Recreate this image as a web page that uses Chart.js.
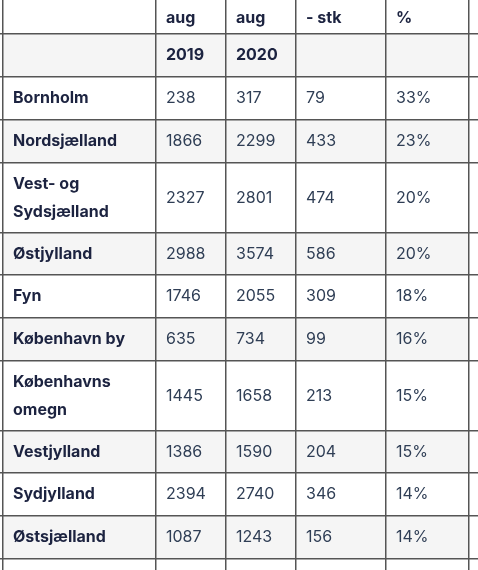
<!DOCTYPE html>
<html><head><meta charset="utf-8">
<script src="https://cdn.jsdelivr.net/npm/chart.js@4"></script>
<style>html,body{margin:0;padding:0;background:#fff;overflow:hidden}</style>
</head><body>
<canvas id="c" width="478" height="570"></canvas>
<script>
const headerTop = ["", "aug", "aug", "- stk", "%"];
const headerSub = ["", "2019", "2020", "", ""];
const regions = [["Bornholm"],["Nordsjælland"],["Vest- og","Sydsjælland"],["Østjylland"],["Fyn"],["København by"],["Københavns","omegn"],["Vestjylland"],["Sydjylland"],["Østsjælland"]];
const aug2019 = [238,1866,2327,2988,1746,635,1445,1386,2394,1087];
const aug2020 = [317,2299,2801,3574,2055,734,1658,1590,2740,1243];
const diffStk = [79,433,474,586,309,99,213,204,346,156];
const pct = ["33%","23%","20%","20%","18%","16%","15%","15%","14%","14%"];
const colBounds = [3,156,226,296,386,469];
const rowBounds = [-10,34,77,120,163,233,275,318,361,431,473,516,559,610];

const rows = [headerTop.map(t=>[t]), headerSub.map(t=>[t])];
regions.forEach((r,i)=>rows.push([r, [String(aug2019[i])], [String(aug2020[i])], [String(diffStk[i])], [pct[i]]]));

const tablePlugin = {
  id:'table',
  beforeDatasetsDraw(chart){
    const {ctx, scales:{x,y}} = chart;
    ctx.save();
    for(let r=0;r<rowBounds.length-1;r++){
      if(r%2===1){
        ctx.fillStyle='#f5f5f5';
        const y0=y.getPixelForValue(rowBounds[r]), y1=y.getPixelForValue(rowBounds[r+1]);
        ctx.fillRect(x.getPixelForValue(colBounds[0]), y0, x.getPixelForValue(colBounds[5])-x.getPixelForValue(colBounds[0]), y1-y0);
      }
    }
    ctx.restore();
  },
  afterDraw(chart){
    const {ctx, scales:{x,y}} = chart;
    ctx.save();
    ctx.textBaseline='middle';
    rows.forEach((row,r)=>{
      const yc=(y.getPixelForValue(rowBounds[r])+y.getPixelForValue(rowBounds[r+1]))/2 + (r===0?6:0);
      row.forEach((lines,c)=>{
        const bold = r<2 || c===0;
        ctx.font = (bold?'bold ':'')+'16px Inter, "Open Sans", sans-serif';
        ctx.fillStyle = bold ? '#1c2340' : '#2f3e55';
        const xl = x.getPixelForValue(colBounds[c]) + 10;
        lines.forEach((t,k)=>{
          ctx.fillText(t, xl, yc + (k-(lines.length-1)/2)*28);
        });
      });
    });
    ctx.restore();
  }
};

new Chart(document.getElementById('c'), {
  type:'scatter',
  data:{datasets:[{data:[], pointRadius:0}]},
  options:{
    responsive:false, animation:false,
    layout:{padding:0},
    plugins:{legend:{display:false}, tooltip:{enabled:false}},
    scales:{
      x:{type:'linear', min:0, max:478, position:'bottom',
        afterBuildTicks(s){ s.ticks = colBounds.map(v=>({value:v})); },
        ticks:{display:false}, border:{display:false},
        grid:{color:'#555', lineWidth:1.5, drawTicks:false, z:1}},
      y:{type:'linear', min:0, max:570, reverse:true,
        afterBuildTicks(s){ s.ticks = rowBounds.filter(v=>v>0&&v<570).map(v=>({value:v})); },
        ticks:{display:false}, border:{display:false},
        grid:{color:'#555', lineWidth:1.5, drawTicks:false, z:1}}
    }
  },
  plugins:[tablePlugin]
});
</script>
</body></html>
